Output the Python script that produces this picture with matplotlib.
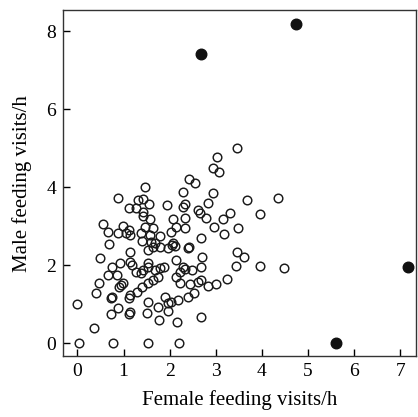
import matplotlib
matplotlib.use("Agg")
import matplotlib.pyplot as plt

# open circles: (female, male) feeding visits per hour
female_open = [
    3.47, 3.02, 2.95, 3.06, 2.43, 2.56, 1.47, 2.30, 2.95, 0.89,
    1.32, 1.43, 3.67, 4.34, 1.11, 1.26, 1.56, 1.95, 2.34, 2.30,
    2.84, 1.43, 1.43, 2.62, 2.65, 3.30, 3.95, 2.78, 1.58, 2.08,
    2.34, 3.15, 0.56, 0.98, 3.49, 3.17, 2.96,
    1.11, 1.15, 1.05, 0.67, 0.89, 1.37, 1.58, 1.47, 1.65, 1.80,
    2.02, 2.13, 2.34, 1.41, 1.54, 1.63, 1.69, 1.60, 1.80, 1.97,
    2.06, 2.08, 2.12, 2.39, 2.41, 2.67, 0.69, 1.15, 3.47, 3.62,
    0.50, 0.76, 0.93, 1.15, 1.19, 1.52, 1.54, 1.26, 1.37, 1.43,
    1.69, 1.80, 1.87, 2.13, 2.30, 2.34, 2.23, 2.49, 2.67, 2.71,
    2.67, 2.45, 2.62, 2.23, 2.84, 3.01, 3.25, 3.45, 3.95, 4.49,
    0.46, 0.41, 0.91, 0.98, 0.72, 0.76, 1.15, 1.11, 1.30, 1.41,
    1.52, 1.63, 1.74, 1.54, 1.74, 1.90, 1.97, 2.02, 2.19, 2.39,
    2.52, 1.97, 0.72, 0.89, 1.11, 1.15, 1.50, 1.76, 2.17, 2.67,
    0.00, 0.36, 0.67, 0.85, 0.95, 2.13, 0.03, 0.78, 1.52, 2.20,
]
male_open = [
    5.00, 4.77, 4.49, 4.38, 4.20, 4.10, 4.00, 3.87, 3.85, 3.72,
    3.67, 3.69, 3.67, 3.72, 3.46, 3.46, 3.56, 3.54, 3.56, 3.49,
    3.59, 3.36, 3.26, 3.41, 3.33, 3.33, 3.30, 3.20, 3.18, 3.18,
    3.20, 3.18, 3.05, 3.00, 2.96, 2.79, 2.97,
    2.90, 2.77, 2.83, 2.85, 2.82, 2.82, 2.77, 2.97, 2.95, 2.74,
    2.85, 2.97, 2.95, 2.62, 2.38, 2.46, 2.56, 2.60, 2.46, 2.44,
    2.51, 2.56, 2.48, 2.44, 2.46, 2.69, 2.54, 2.33, 2.33, 2.20,
    2.18, 1.95, 2.05, 2.08, 2.00, 2.05, 1.95, 1.82, 1.79, 1.87,
    1.87, 1.92, 1.95, 2.13, 1.95, 1.90, 1.82, 1.87, 1.95, 2.21,
    1.62, 1.51, 1.56, 1.54, 1.46, 1.51, 1.64, 1.97, 1.97, 1.92,
    1.54, 1.29, 1.44, 1.54, 1.15, 1.18, 1.23, 1.15, 1.31, 1.44,
    1.54, 1.62, 1.69, 1.05, 0.92, 1.18, 1.03, 1.05, 1.10, 1.18,
    1.28, 0.82, 0.74, 0.90, 0.74, 0.80, 0.77, 0.60, 0.54, 0.67,
    1.00, 0.39, 1.74, 1.74, 1.49, 1.69, 0.00, 0.00, 0.00, 0.00,
]

# filled circles
female_filled = [2.68, 4.75, 7.16, 5.60]
male_filled = [7.40, 8.17, 1.95, 0.00]

plt.rcParams['font.family'] = ['Liberation Serif', 'DejaVu Serif']

fig = plt.figure(figsize=(4.18, 4.17), dpi=100)
ax = fig.add_axes([0.151, 0.146, 0.845, 0.830])

ax.plot(female_open, male_open, 'o', markerfacecolor='none',
        markeredgecolor='#1a1a1a', markersize=6.2, markeredgewidth=1.05)
ax.plot(female_filled, male_filled, 'o', color='#111111', markersize=7.6)

ax.set_xlim(-0.31, 7.35)
ax.set_ylim(-0.33, 8.54)
ax.set_xticks(range(0, 8))
ax.set_yticks([0, 2, 4, 6, 8])

ax.tick_params(direction='in', length=5, width=1, labelsize=14, pad=5)
for sp in ax.spines.values():
    sp.set_linewidth(1.0)
    sp.set_color('#333333')

ax.set_xlabel('Female feeding visits/h', fontsize=15, labelpad=7)
ax.set_ylabel('Male feeding visits/h', fontsize=15, labelpad=10)

fig.savefig('out.png', dpi=100)
